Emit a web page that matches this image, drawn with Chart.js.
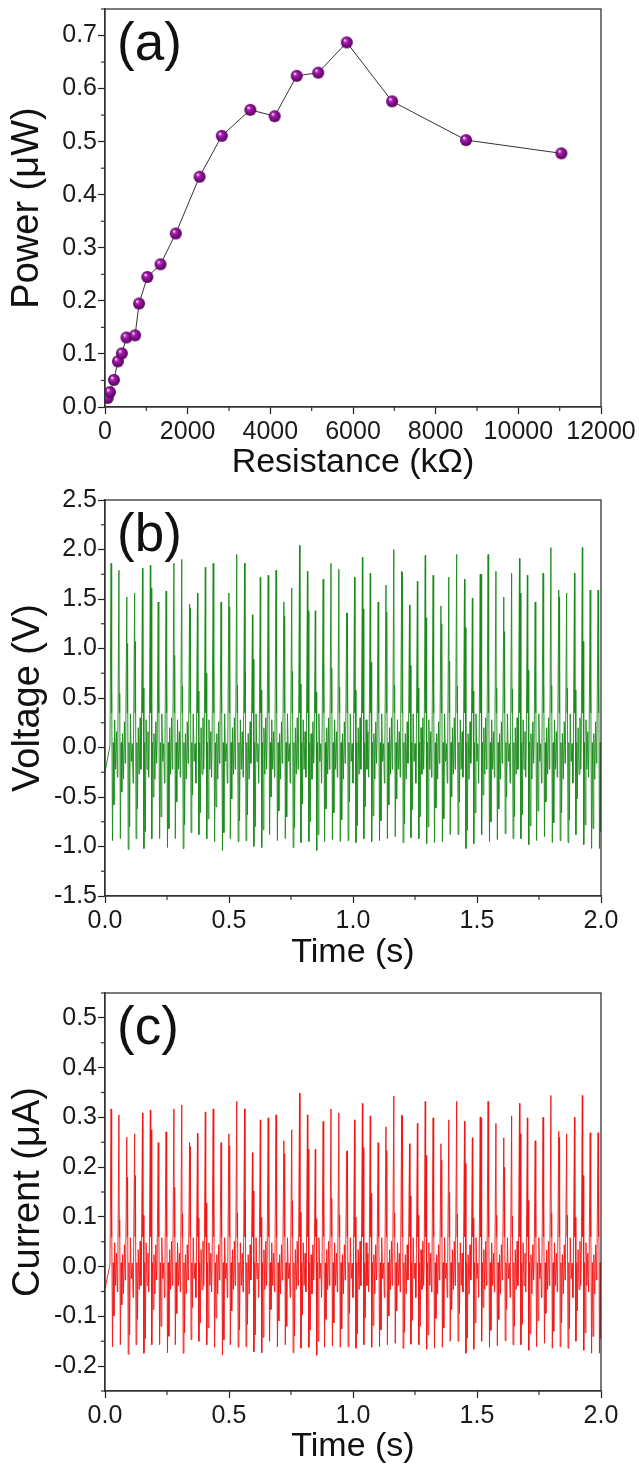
<!DOCTYPE html>
<html>
<head>
<meta charset="utf-8">
<script src="https://cdn.jsdelivr.net/npm/chart.js@4.4.0/dist/chart.umd.min.js"></script>
<style>
html, body { margin: 0; padding: 0; background: #fff; }
.box { position: absolute; left: 0; width: 639px; }
</style>
</head>
<body>
<div class="box" style="top:0;height:480px"><canvas id="chA"></canvas></div>
<div class="box" style="top:480px;height:490px"><canvas id="chB"></canvas></div>
<div class="box" style="top:970px;height:494px"><canvas id="chC"></canvas></div>
<script>
// (a) power vs load resistance
var resistance = [64, 120, 216, 312, 408, 520, 728, 824, 1024, 1344, 1712, 2288,
                  2825, 3516, 4104, 4639, 5158, 5849, 6946, 8734, 11041];
var power = [0.017, 0.028, 0.051, 0.086, 0.101, 0.131, 0.135, 0.195, 0.245, 0.269, 0.327, 0.434,
             0.511, 0.560, 0.548, 0.624, 0.630, 0.687, 0.576, 0.503, 0.478];
var aXTicks = [0, 2000, 4000, 6000, 8000, 10000, 12000];
var aXMinor = [1000, 3000, 5000, 7000, 9000, 11000];
var aYTicks = [0, 0.1, 0.2, 0.3, 0.4, 0.5, 0.6, 0.7];
var aYMinor = [0.05, 0.15, 0.25, 0.35, 0.45, 0.55, 0.65, 0.75];

// (b)/(c) one cycle per spike: first spike time and spacing
var t0 = 0.0245;
var period = 0.03167;
var vPeak = [1.86,1.79,1.52,1.56,1.81,1.84,1.47,1.58,1.86,1.90,1.45,1.56,1.82,1.86,1.47,1.56,1.95,1.86,1.34,1.72,
             1.74,1.79,1.47,1.61,2.04,1.78,1.38,1.70,1.86,1.80,1.36,1.72,1.92,1.76,1.47,1.64,2.00,1.78,1.44,1.68,
             1.94,1.74,1.43,1.72,1.95,1.70,1.51,1.75,1.95,1.78,1.52,1.76,1.91,1.74,1.47,1.76,2.02,1.59,1.56,1.76,
             2.02,1.59,1.59];
var vPeak2 = [0.62,0.55,1.05,1.07,0.60,1.61,0.58,0.92,0.93,0.62,1.41,0.57,0.75,0.93,0.60,1.42,0.63,0.77,0.89,0.58,
              1.42,0.60,1.33,0.77,0.64,1.38,0.56,0.92,0.80,0.61,1.36,0.58,1.40,0.86,0.57,1.37,0.63,1.77,0.83,0.60,
              1.31,0.58,1.25,0.87,0.62,1.21,0.57,1.75,0.78,0.60,1.17,0.59,1.56,0.78,0.56,0.95,0.63,1.52,0.60,0.58,
              1.07,0.61,1.29];
var vTrough = [-0.94,-0.92,-1.03,-0.92,-1.02,-0.92,-0.92,-1.01,-0.92,-1.02,-0.86,-0.88,-0.92,-0.95,-1.04,-0.92,-0.95,-0.94,-1.00,-1.01,
               -0.88,-0.94,-0.92,-1.01,-0.96,-0.95,-1.04,-0.95,-0.93,-0.95,-0.94,-0.96,-0.92,-0.95,-0.94,-0.92,-0.90,-0.96,-0.91,-0.92,
               -0.97,-0.96,-0.95,-0.88,-0.88,-1.02,-0.97,-0.88,-0.95,-0.93,-0.87,-0.92,-0.92,-0.98,-0.94,-0.90,-0.96,-0.94,-0.96,-0.88,
               -0.98,-1.02,-1.02];
var vTrough2 = [-0.58,-0.45,-0.80,-0.62,-0.85,-0.50,-0.70,-0.82,-0.55,-0.78,-0.48,-0.66,-0.72,-0.60,-0.86,-0.52,-0.74,-0.68,-0.80,-0.83,
                -0.50,-0.64,-0.70,-0.81,-0.57,-0.75,-0.88,-0.62,-0.66,-0.73,-0.55,-0.79,-0.60,-0.69,-0.74,-0.58,-0.52,-0.77,-0.63,-0.70,
                -0.80,-0.61,-0.72,-0.50,-0.55,-0.84,-0.66,-0.48,-0.75,-0.62,-0.50,-0.70,-0.68,-0.79,-0.64,-0.55,-0.76,-0.66,-0.73,-0.52,
                -0.78,-0.82,-0.85];
var cPeak = [0.317,0.305,0.260,0.267,0.309,0.315,0.249,0.271,0.317,0.325,0.249,0.268,0.311,0.317,0.249,0.267,0.332,0.317,0.229,0.295,
             0.299,0.305,0.253,0.275,0.349,0.305,0.236,0.292,0.317,0.309,0.232,0.295,0.328,0.303,0.249,0.281,0.343,0.305,0.247,0.288,
             0.332,0.299,0.247,0.295,0.332,0.292,0.259,0.301,0.332,0.288,0.259,0.303,0.328,0.299,0.253,0.300,0.344,0.272,0.267,0.300,
             0.344,0.269,0.269];
var cPeak2 = [0.106,0.094,0.180,0.183,0.103,0.275,0.099,0.157,0.159,0.106,0.241,0.097,0.128,0.159,0.103,0.243,0.108,0.132,0.152,0.099,
              0.243,0.103,0.227,0.132,0.109,0.236,0.096,0.157,0.137,0.104,0.233,0.099,0.239,0.147,0.097,0.234,0.108,0.303,0.142,0.103,
              0.224,0.099,0.214,0.149,0.106,0.207,0.097,0.299,0.133,0.103,0.200,0.101,0.267,0.133,0.096,0.162,0.108,0.260,0.103,0.099,
              0.183,0.104,0.221];
var cTrough = [-0.161,-0.157,-0.176,-0.157,-0.174,-0.157,-0.157,-0.173,-0.157,-0.174,-0.147,-0.150,-0.157,-0.162,-0.178,-0.157,-0.162,-0.161,-0.171,-0.173,
               -0.150,-0.161,-0.157,-0.173,-0.164,-0.162,-0.178,-0.162,-0.159,-0.162,-0.161,-0.164,-0.157,-0.162,-0.161,-0.157,-0.154,-0.164,-0.156,-0.157,
               -0.166,-0.164,-0.162,-0.150,-0.150,-0.174,-0.166,-0.150,-0.162,-0.159,-0.149,-0.157,-0.157,-0.168,-0.161,-0.154,-0.164,-0.161,-0.164,-0.150,
               -0.168,-0.174,-0.174];
var cTrough2 = [-0.099,-0.077,-0.137,-0.106,-0.145,-0.086,-0.120,-0.140,-0.094,-0.133,-0.082,-0.113,-0.123,-0.103,-0.147,-0.089,-0.127,-0.116,-0.137,-0.142,
                -0.086,-0.109,-0.120,-0.139,-0.097,-0.128,-0.150,-0.106,-0.113,-0.125,-0.094,-0.135,-0.103,-0.118,-0.127,-0.099,-0.089,-0.132,-0.108,-0.120,
                -0.137,-0.104,-0.123,-0.086,-0.094,-0.144,-0.113,-0.082,-0.128,-0.106,-0.086,-0.120,-0.116,-0.135,-0.109,-0.094,-0.130,-0.113,-0.125,-0.089,
                -0.133,-0.140,-0.145];
// shape of one cycle around its spike (fraction of period); R1..R4 are the small ripples
var cycleT = [-0.14, 0, 0.05, 0.10, 0.18, 0.28, 0.36, 0.46, 0.58, 0.70, 0.80];
var cycleShape = [0, 'P', 0, 'P2', 'T', 0, 'T2', 'R1', 'R2', 'R3', 'R4'];
// ripple levels repeat over a group of four spikes
var vRipple = [[0.28, -0.22, 0.16, -0.30], [0.14, -0.32, 0.26, -0.16], [0.34, -0.14, 0.04, -0.36], [0.20, -0.27, 0.30, -0.22]];
var cRipple = [[0.048, -0.038, 0.027, -0.051], [0.024, -0.055, 0.044, -0.027], [0.058, -0.024, 0.007, -0.062], [0.034, -0.046, 0.051, -0.038]];
var vLevels = [0.02, 0.35, 0.05]; // before spike, between the two spikes, after the trough
var cLevels = [0.004, 0.06, 0.008];
var vStart = -0.25, cStart = -0.045;

var tTicks = [0, 0.5, 1.0, 1.5, 2.0];
var tMinor = [0.25, 0.75, 1.25, 1.75];
var bYTicks = [-1.5, -1.0, -0.5, 0, 0.5, 1.0, 1.5, 2.0, 2.5];
var bYMinor = [-1.25, -0.75, -0.25, 0.25, 0.75, 1.25, 1.75, 2.25];
var cYTicks = [-0.2, -0.1, 0, 0.1, 0.2, 0.3, 0.4, 0.5];
var cYMinor = [-0.25, -0.15, -0.05, 0.05, 0.15, 0.25, 0.35, 0.45, 0.55];

var FONT = '"Liberation Sans", Arial, sans-serif';

function buildWave(peaks, peaks2, troughs, troughs2, levels, ripple, startV) {
    var pts = [{x: 0, y: startV}];
    for (var i = 0; i < peaks.length; i++) {
        var tp = t0 + i * period;
        var rp = ripple[i % ripple.length];
        var lv = 0;
        for (var k = 0; k < cycleT.length; k++) {
            var s = cycleShape[k], v;
            if (s === 'P') v = peaks[i];
            else if (s === 'P2') v = peaks2[i];
            else if (s === 'T') v = troughs[i];
            else if (s === 'T2') v = troughs2[i];
            else if (s === 0) { v = levels[lv]; lv++; }
            else v = rp[parseInt(s.charAt(1)) - 1];
            pts.push({x: tp + cycleT[k] * period, y: v});
        }
    }
    return pts;
}

function sphere(r) {//shiny purple ball for the markers
    var cv = document.createElement('canvas');
    cv.width = cv.height = Math.ceil(2 * r + 2);
    var g = cv.getContext('2d');
    var c = cv.width / 2;
    var grd = g.createRadialGradient(c - r * 0.35, c - r * 0.4, 0.3, c, c, r);
    grd.addColorStop(0, '#fbe6fb');
    grd.addColorStop(0.3, '#a81fb0');
    grd.addColorStop(0.75, '#76087e');
    grd.addColorStop(1, '#4a0350');
    g.fillStyle = grd;
    g.beginPath();
    g.arc(c, c, r, 0, Math.PI * 2);
    g.fill();
    return cv;
}

var framePlugin = {
    id: 'frame',
    afterDatasetsDraw: function (chart, args, opts) {
        var a = chart.chartArea, c = chart.ctx;
        var xs = chart.scales.x, ys = chart.scales.y;
        c.save();
        c.strokeStyle = '#333';
        c.lineWidth = 1.3;
        c.strokeRect(a.left, a.top, a.right - a.left, a.bottom - a.top);
        c.lineWidth = 1.2;
        opts.xMinor.forEach(function (v) {
            var p = xs.getPixelForValue(v);
            c.beginPath(); c.moveTo(p, a.bottom); c.lineTo(p, a.bottom + 4); c.stroke();
        });
        opts.yMinor.forEach(function (v) {
            var p = ys.getPixelForValue(v);
            c.beginPath(); c.moveTo(a.left, p); c.lineTo(a.left - 4, p); c.stroke();
        });
        c.fillStyle = '#111';
        c.font = '53px ' + FONT;
        c.textBaseline = 'top';
        c.fillText(opts.letter, a.left + 12, a.top + 10);
        c.restore();
    }
};

function axis(min, max, tickVals, fmt, title, isX, size, titleSize, titlePad) {
    return {
        type: 'linear',
        min: min,
        max: max,
        afterBuildTicks: function (s) {
            s.ticks = tickVals.map(function (v) { return {value: v}; });
        },
        afterFit: function (s) {
            if (isX) { s.height = size; s.paddingLeft = 0; s.paddingRight = 0; }
            else { s.width = size; s.paddingTop = 0; s.paddingBottom = 0; }
        },
        grid: {display: true, drawOnChartArea: false, drawTicks: true, tickLength: 7, tickWidth: 1.2, tickColor: '#222'},
        border: {display: true, color: '#333', width: 1.3},
        ticks: {font: {family: FONT, size: 25}, color: '#1a1a1a', padding: isX ? 3 : 1, maxRotation: 0, autoSkip: false,
                callback: fmt},
        title: {display: true, text: title, color: '#111', font: {family: FONT, size: titleSize, lineHeight: 1},
                padding: {top: titlePad, bottom: 0}}
    };
}

function oneDec(v) { return v.toFixed(1); }
function plain(v) { return String(v); }

var common = {
    responsive: true,
    maintainAspectRatio: false,
    animation: false,
    events: []
};

new Chart(document.getElementById('chA'), {
    type: 'line',
    data: {
        datasets: [{
            data: resistance.map(function (r, i) { return {x: r, y: power[i]}; }),
            borderColor: '#333',
            borderWidth: 1,
            pointStyle: sphere(6),
            pointRadius: 6,
            tension: 0
        }]
    },
    options: Object.assign({}, common, {
        layout: {padding: {top: 9, right: 38, left: 0, bottom: 0}},
        plugins: {legend: {display: false}, tooltip: {enabled: false},
                  frame: {xMinor: aXMinor, yMinor: aYMinor, letter: '(a)'}},
        scales: {
            x: axis(0, 12000, aXTicks, plain, 'Resistance (k\u03A9)', true, 73, 34, 1),
            y: axis(0, 0.75, aYTicks, oneDec, 'Power (\u03BCW)', false, 105, 38, 9)
        }
    }),
    plugins: [framePlugin]
});

new Chart(document.getElementById('chB'), {
    type: 'line',
    data: {
        datasets: [{
            data: buildWave(vPeak, vPeak2, vTrough, vTrough2, vLevels, vRipple, vStart),
            borderColor: '#1a8a1a',
            borderWidth: 0.9,
            pointRadius: 0,
            tension: 0
        }]
    },
    options: Object.assign({}, common, {
        layout: {padding: {top: 20, right: 38, left: 0, bottom: 0}},
        plugins: {legend: {display: false}, tooltip: {enabled: false},
                  frame: {xMinor: tMinor, yMinor: bYMinor, letter: '(b)'}},
        scales: {
            x: axis(0, 2, tTicks, oneDec, 'Time (s)', true, 74, 34, 5),
            y: axis(-1.5, 2.5, bYTicks, oneDec, 'Voltage (V)', false, 105, 38, 10)
        }
    }),
    plugins: [framePlugin]
});

new Chart(document.getElementById('chC'), {
    type: 'line',
    data: {
        datasets: [{
            data: buildWave(cPeak, cPeak2, cTrough, cTrough2, cLevels, cRipple, cStart),
            borderColor: '#f21515',
            borderWidth: 0.9,
            pointRadius: 0,
            tension: 0
        }]
    },
    options: Object.assign({}, common, {
        layout: {padding: {top: 23, right: 38, left: 0, bottom: 0}},
        plugins: {legend: {display: false}, tooltip: {enabled: false},
                  frame: {xMinor: tMinor, yMinor: cYMinor, letter: '(c)'}},
        scales: {
            x: axis(0, 2, tTicks, oneDec, 'Time (s)', true, 73, 34, 7),
            y: axis(-0.25, 0.55, cYTicks, oneDec, 'Current (\u03BCA)', false, 105, 38, 10)
        }
    }),
    plugins: [framePlugin]
});
</script>
</body>
</html>
